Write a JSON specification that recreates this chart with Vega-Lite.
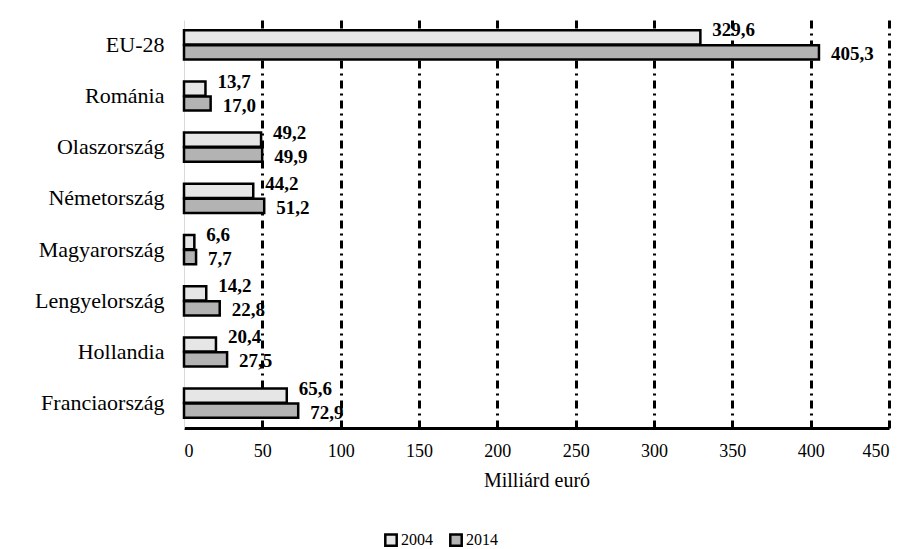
{
  "$schema": "https://vega.github.io/schema/vega-lite/v6.json",
  "autosize": {"type": "none"},
  "width": 705,
  "height": 408,
  "padding": {"left": 184, "top": 20, "right": 19, "bottom": 121},
  "background": "white",
  "config": {
    "locale": {"number": {"decimal": ",", "thousands": " ", "grouping": [3], "currency": ["", " €"]}},
    "font": "Liberation Serif",
    "view": {"stroke": null}
  },
  "data": {
    "values": [
      {"country": "EU-28", "year": "2004", "value": 329.6},
      {"country": "EU-28", "year": "2014", "value": 405.3},
      {"country": "Románia", "year": "2004", "value": 13.7},
      {"country": "Románia", "year": "2014", "value": 17.0},
      {"country": "Olaszország", "year": "2004", "value": 49.2},
      {"country": "Olaszország", "year": "2014", "value": 49.9},
      {"country": "Németország", "year": "2004", "value": 44.2},
      {"country": "Németország", "year": "2014", "value": 51.2},
      {"country": "Magyarország", "year": "2004", "value": 6.6},
      {"country": "Magyarország", "year": "2014", "value": 7.7},
      {"country": "Lengyelország", "year": "2004", "value": 14.2},
      {"country": "Lengyelország", "year": "2014", "value": 22.8},
      {"country": "Hollandia", "year": "2004", "value": 20.4},
      {"country": "Hollandia", "year": "2014", "value": 27.5},
      {"country": "Franciaország", "year": "2004", "value": 65.6},
      {"country": "Franciaország", "year": "2014", "value": 72.9}
    ]
  },
  "encoding": {
    "y": {
      "field": "country", "type": "nominal",
      "sort": ["EU-28", "Románia", "Olaszország", "Németország", "Magyarország", "Lengyelország", "Hollandia", "Franciaország"],
      "scale": {"paddingInner": 0.43, "paddingOuter": 0.2},
      "axis": {"title": null, "ticks": false, "domainColor": "#d9d9d9", "domainWidth": 1, "labelFont": "Liberation Serif", "labelFontSize": 22, "labelColor": "black", "labelPadding": 20}
    },
    "yOffset": {"field": "year", "type": "nominal", "scale": {"paddingInner": 0.05}},
    "x": {
      "field": "value", "type": "quantitative",
      "scale": {"domain": [0, 450], "nice": false},
      "axis": {
        "values": [0, 50, 100, 150, 200, 250, 300, 350, 400, 450],
        "title": "Milliárd euró", "titleFont": "Liberation Serif", "titleFontSize": 20, "titleFontWeight": "normal", "titleColor": "black", "titlePadding": 10,
        "labelFont": "Liberation Serif", "labelFontSize": 18, "labelColor": "black", "labelPadding": 14,
        "ticks": false, "domainColor": "black", "domainWidth": 3,
        "grid": true,
        "gridColor": {"condition": {"test": "datum.value === 0", "value": "transparent"}, "value": "black"},
        "gridWidth": 3, "gridDash": [8, 5, 2, 5]
      }
    }
  },
  "layer": [
    {
      "mark": {"type": "bar", "stroke": "black", "strokeWidth": 2.5},
      "encoding": {
        "fill": {
          "field": "year", "type": "nominal",
          "scale": {"domain": ["2004", "2014"], "range": ["#e6e6e6", "#b3b3b3"]},
          "legend": {"title": null, "orient": "none", "legendX": 199, "legendY": 512, "direction": "horizontal", "symbolType": "square", "symbolSize": 130, "symbolStrokeColor": "black", "symbolStrokeWidth": 2.5, "labelFont": "Liberation Serif", "labelFontSize": 16, "labelColor": "black", "columnPadding": 12, "labelOffset": 2}
        }
      }
    },
    {
      "transform": [{"filter": "datum.year === '2004'"}],
      "mark": {"type": "text", "align": "left", "dx": 12, "dy": -7, "font": "Liberation Serif", "fontSize": 19, "fontWeight": "bold", "color": "black"},
      "encoding": {"text": {"field": "value", "type": "quantitative", "format": ".1f"}}
    },
    {
      "transform": [{"filter": "datum.year === '2014'"}],
      "mark": {"type": "text", "align": "left", "dx": 12, "dy": 2, "font": "Liberation Serif", "fontSize": 19, "fontWeight": "bold", "color": "black"},
      "encoding": {"text": {"field": "value", "type": "quantitative", "format": ".1f"}}
    }
  ]
}
